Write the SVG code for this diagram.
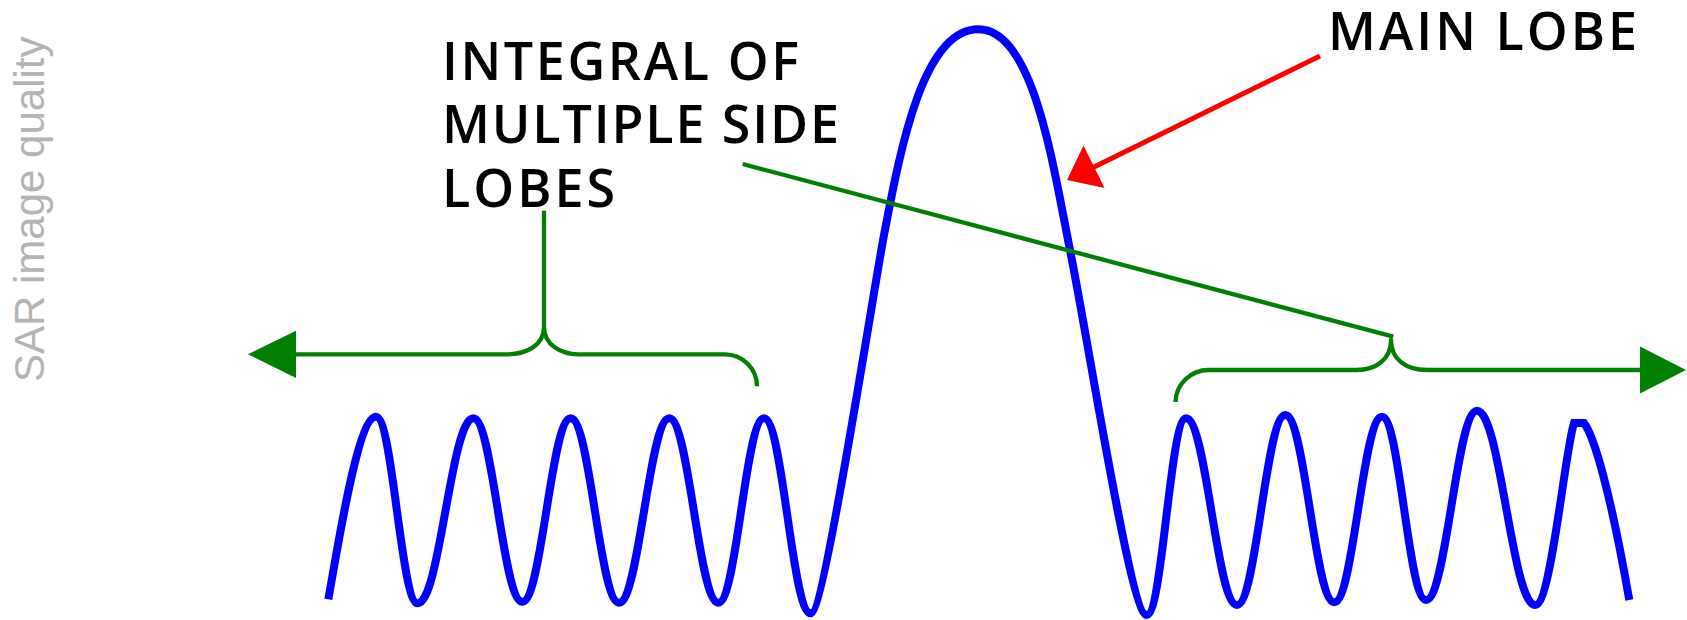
<svg xmlns="http://www.w3.org/2000/svg" width="1687" height="620" viewBox="0 0 1687 620">
  <style>
    .wave { fill: none; stroke: #0000ff; stroke-width: 8; stroke-linecap: butt; stroke-linejoin: miter; stroke-miterlimit: 10; }
    .brace { fill: none; stroke: #008000; stroke-width: 4.3; stroke-linecap: butt; stroke-linejoin: round; }
    .ghead { fill: #008000; stroke: none; }
    .rline { fill: none; stroke: #ff0000; stroke-width: 5; }
    .rhead { fill: #ff0000; stroke: none; }
    .lbl { font-family: "Open Sans", "Noto Sans", "Liberation Sans", sans-serif; font-weight: 600; font-size: 52px; fill: #000000; }
    .axis { font-family: "Liberation Sans", Arial, sans-serif; font-size: 42px; fill: #b4b4b4; }
  </style>
  <rect width="1687" height="620" fill="#ffffff"/>

  <g id="axis-label">
    <text class="axis" transform="translate(44,382) rotate(-90)">SAR image quality</text>
  </g>

  <g id="signal">
    <path class="wave" d="M 328.3 599.3
      C 335.8 560 357 416.7 376 416.7
      C 392.7 416.7 401 603.3 417.7 603.3
      C 439.9 603.3 451.1 418.3 473.3 418.3
      C 492.9 418.3 502.7 601.7 522.3 601.7
      C 541.7 601.7 551.3 418.3 570.7 418.3
      C 590 418.3 599.7 602.7 619 602.7
      C 639.1 602.7 649.2 418.3 669.3 418.3
      C 688.9 418.3 698.7 602.7 718.3 602.7
      C 736.6 602.7 745.7 418.3 764 418.3
      C 782.7 418.3 792 613.3 810.7 613.3
      C 824 613.3 872.8 294 884 235
      C 900.8 146.6 923.3 29.3 978.3 29.3
      C 1033.3 29.3 1052.4 161.8 1070 250
      C 1089.6 348 1130.7 615 1146.7 615
      C 1162.4 615 1170.3 418.3 1186 418.3
      C 1206.4 418.3 1216.6 605 1237 605
      C 1256.3 605 1266 415 1285.3 415
      C 1304.9 415 1314.7 602.3 1334.3 602.3
      C 1353.4 602.3 1362.9 416.7 1382 416.7
      C 1399.6 416.7 1408.4 600 1426 600
      C 1446.4 600 1456.6 410.7 1477 410.7
      C 1500.3 410.7 1512 605 1535.3 605
      C 1551 605 1565 450 1574 423
      L 1584 423
      C 1594 436 1610 490 1629.3 600"/>
  </g>

  <g id="label-sidelobes">
    <text class="lbl" x="442" y="80" textLength="357" lengthAdjust="spacing">INTEGRAL OF</text>
    <text class="lbl" x="442" y="143.3" textLength="397" lengthAdjust="spacing">MULTIPLE SIDE</text>
    <text class="lbl" x="442" y="206.7" textLength="173" lengthAdjust="spacing">LOBES</text>
  </g>

  <g id="label-mainlobe">
    <text class="lbl" x="1328" y="50" textLength="309" lengthAdjust="spacing">MAIN LOBE</text>
  </g>

  <g id="connectors">
    <!-- left brace with arrow -->
    <path class="brace" d="M 544 210.7 L 544 326.7"/>
    <path class="brace" d="M 294 354.3 L 506.7 354.3 C 527 354.3 544 345 544 326.7 C 544 345 561 354.3 578.3 354.3 L 725 354.3 A 32 32 0 0 1 757 386.3"/>
    <polygon class="ghead" points="248,354.3 296,330.7 296,378"/>
    <!-- right brace with arrow -->
    <path class="brace" d="M 742.7 164 L 1393.3 336.7"/>
    <path class="brace" d="M 1175.5 402 A 33 33 0 0 1 1208.5 370 L 1356.7 370 C 1375 370 1391 360 1391 340 C 1391 360 1407 370 1426.7 370 L 1642 370"/>
    <polygon class="ghead" points="1640,346.5 1686,370 1640,393.5"/>
    <!-- main lobe pointer -->
    <path class="rline" d="M 1320 56 L 1093 167.5"/>
    <polygon class="rhead" points="1067,180 1083.5,145.6 1104.5,188"/>
  </g>
</svg>
